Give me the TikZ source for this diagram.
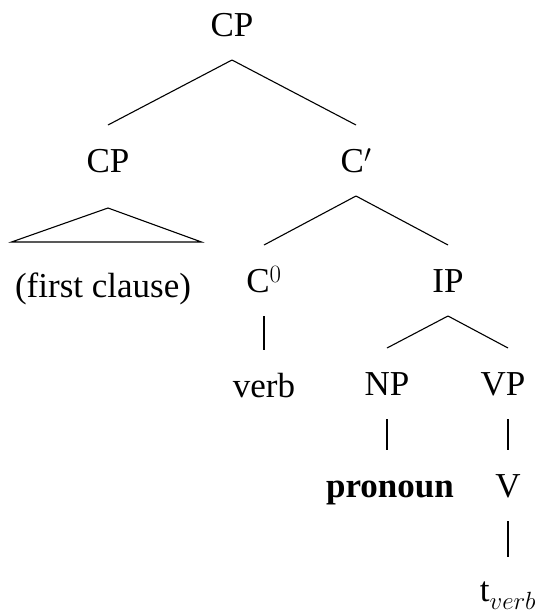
\documentclass[tikz,border=0pt]{standalone}
\usepackage[no-math]{fontspec}
\setmainfont{Liberation Serif}
\usepackage{tikz}
\usetikzlibrary{calc}

\begin{document}
\begin{tikzpicture}[x=1pt,y=-1pt,line width=1.1pt,font=\fontsize{35}{42}\selectfont]
\tikzstyle{cat}=[inner sep=0pt,outer ysep=24pt,text height=23pt,text depth=0pt,anchor=base]
\useasboundingbox (0,0) rectangle (538,614);
\node[cat] (cptop) at (232,36) {CP};
\node[cat] (cpleft) at (108,172) {CP};
\node[cat] (cbar) at (356,172) {C$'$};
\node[cat] (clause) at (103,297) {(first clause)};
\node[cat] (czero) at (264,292) {C$^0$};
\node[cat] (ip) at (448,292) {IP};
\node[cat] (verb) at (264,397) {verb};
\node[cat] (np) at (387,395) {NP};
\node[cat] (vp) at (503,395) {VP};
\node[cat] (pron) at (390,497) {\textbf{pronoun}};
\node[cat] (v) at (508,497) {V};
\node[cat] (trace) at (508,601) {t$_{verb}$};
\draw (cptop.south) to (cpleft.north);
\draw (cptop.south) to (cbar.north);
\draw ([yshift=-12pt]cpleft.south) -- ([shift={(-3pt,8pt)}]clause.north west)
  -- ([shift={(10pt,8pt)}]clause.north east) -- cycle;
\draw (cbar.south) to (czero.north);
\draw (cbar.south) to (ip.north);
\draw (czero.south) to (verb.north);
\draw (ip.south) to (np.north);
\draw (ip.south) to ([xshift=5pt]vp.north);
\draw (np.south) to (pron.north -| np.south);
\draw ([xshift=5pt]vp.south) to (v.north);
\draw (v.south) to ([yshift=-3pt]trace.north -| v.south);
\end{tikzpicture}
\end{document}
